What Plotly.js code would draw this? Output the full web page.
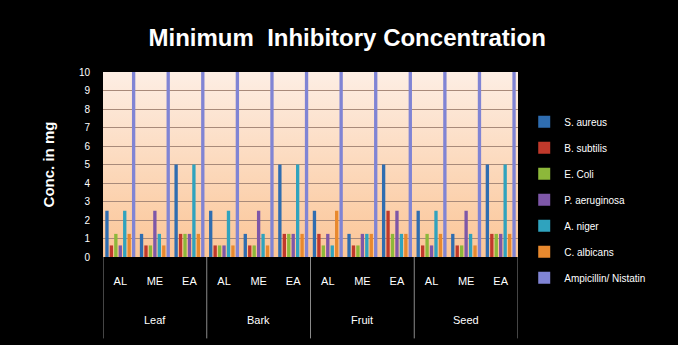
<!DOCTYPE html>
<html>
<head>
<meta charset="utf-8">
<script src="https://cdn.plot.ly/plotly-3.0.1.min.js"></script>
<style>html,body{margin:0;padding:0;background:#000;}#chart{width:678px;height:345px;}</style>
</head>
<body>
<div id="chart"></div>
<script>
const extracts = ["AL","ME","EA","AL","ME","EA","AL","ME","EA","AL","ME","EA"];
const parts = ["Leaf","Bark","Fruit","Seed"];
const seriesNames = ["S. aureus","B. subtilis","E. Coli","P. aeruginosa","A. niger","C. albicans","Ampicillin/ Nistatin"];
const sAureus     = [2.5, 1.25, 5, 2.5, 1.25, 5, 2.5, 1.25, 5, 2.5, 1.25, 5];
const bSubtilis   = [0.625, 0.625, 1.25, 0.625, 0.625, 1.25, 1.25, 0.625, 2.5, 0.625, 0.625, 1.25];
const eColi       = [1.25, 0.625, 1.25, 0.625, 0.625, 1.25, 0.625, 0.625, 1.25, 1.25, 0.625, 1.25];
const pAeruginosa = [0.625, 2.5, 1.25, 0.625, 2.5, 1.25, 1.25, 1.25, 2.5, 0.625, 2.5, 1.25];
const aNiger      = [2.5, 1.25, 5, 2.5, 1.25, 5, 0.625, 1.25, 1.25, 2.5, 1.25, 5];
const cAlbicans   = [1.25, 0.625, 1.25, 0.625, 0.625, 1.25, 2.5, 1.25, 1.25, 1.25, 0.625, 1.25];
const ampicillin  = [10, 10, 10, 10, 10, 10, 10, 10, 10, 10, 10, 10];
const yTicks = [0,1,2,3,4,5,6,7,8,9,10];

const allValues = [sAureus, bSubtilis, eColi, pAeruginosa, aNiger, cAlbicans, ampicillin];
const colors = ["#2F6DB0","#C0392B","#8DB83A","#7E57A8","#2FA3BE","#E8892E","#8084D4"];
const xIdx = extracts.map((_, i) => i);
const perPart = extracts.length / parts.length;

const traces = allValues.map((vals, i) => ({
  type: "bar",
  name: seriesNames[i],
  x: xIdx,
  y: vals,
  marker: {color: colors[i], line: {width: 0}},
  legendgroup: "g" + i
}));

const gradSvg = '<svg xmlns="http://www.w3.org/2000/svg" width="100" height="100" preserveAspectRatio="none"><defs><linearGradient id="g" x1="0" y1="0" x2="0" y2="1"><stop offset="0" stop-color="#FDEEE4"/><stop offset="1" stop-color="#FBC596"/></linearGradient></defs><rect width="100" height="100" fill="url(#g)"/></svg>';

const shapes = [];
for (let k = 0; k <= parts.length; k++) {
  shapes.push({type: "line", xref: "x", yref: "paper", x0: k*perPart - 0.5, x1: k*perPart - 0.5, y0: 0, y1: -0.44, line: {color: "#8a8a8a", width: 1}});
}
const annotations = parts.map((p, k) => ({
  text: p, xref: "x", yref: "paper", x: k*perPart + (perPart-1)/2, y: -0.34, yanchor: "middle",
  showarrow: false, font: {color: "#fff", size: 11}
}));

const layout = {
  width: 678, height: 345,
  paper_bgcolor: "#000",
  plot_bgcolor: "#FCD9BC",
  margin: {l: 103, r: 160, t: 72, b: 88, autoexpand: false},
  font: {family: "Liberation Sans, Arial, sans-serif", color: "#fff", size: 10},
  title: {text: "<b>Minimum  Inhibitory Concentration</b>", font: {size: 24, color: "#fff", family: "Liberation Sans, Arial, sans-serif"}, x: 0.512, xanchor: "center", y: 1 - 38/345, yanchor: "middle", yref: "container"},
  barmode: "group",
  bargap: 0.1,
  bargroupgap: 0.25,
  showlegend: true,
  xaxis: {
    range: [-0.5, extracts.length - 0.5],
    tickvals: xIdx,
    ticktext: extracts,
    showgrid: false,
    showline: false,
    zeroline: false,
    ticks: "outside", ticklen: 14, tickcolor: "rgba(0,0,0,0)",
    tickfont: {color: "#fff", size: 11}
  },
  yaxis: {
    range: [0, 10],
    tickvals: yTicks,
    ticktext: yTicks.map(String),
    gridcolor: "#A88A7A",
    gridwidth: 1,
    zeroline: false,
    showline: false,
    ticks: "outside", ticklen: 10, tickcolor: "rgba(0,0,0,0)",
    tickfont: {color: "#fff", size: 10},
    title: {text: "<b>Conc. in mg</b>", font: {size: 15, color: "#fff"}, standoff: 20}
  },
  legend: {
    x: 1.015, xanchor: "left", y: 0.81, yanchor: "top",
    font: {color: "#fff", size: 10},
    tracegroupgap: 7,
    itemwidth: 30,
    bgcolor: "rgba(0,0,0,0)"
  },
  shapes: shapes,
  annotations: annotations,
  images: [{
    source: "data:image/svg+xml;charset=utf-8," + encodeURIComponent(gradSvg),
    xref: "paper", yref: "paper", x: 0, y: 1, sizex: 1, sizey: 1,
    sizing: "stretch", layer: "below", xanchor: "left", yanchor: "top"
  }]
};

Plotly.newPlot("chart", traces, layout, {displayModeBar: false, staticPlot: true});
</script>
</body>
</html>
